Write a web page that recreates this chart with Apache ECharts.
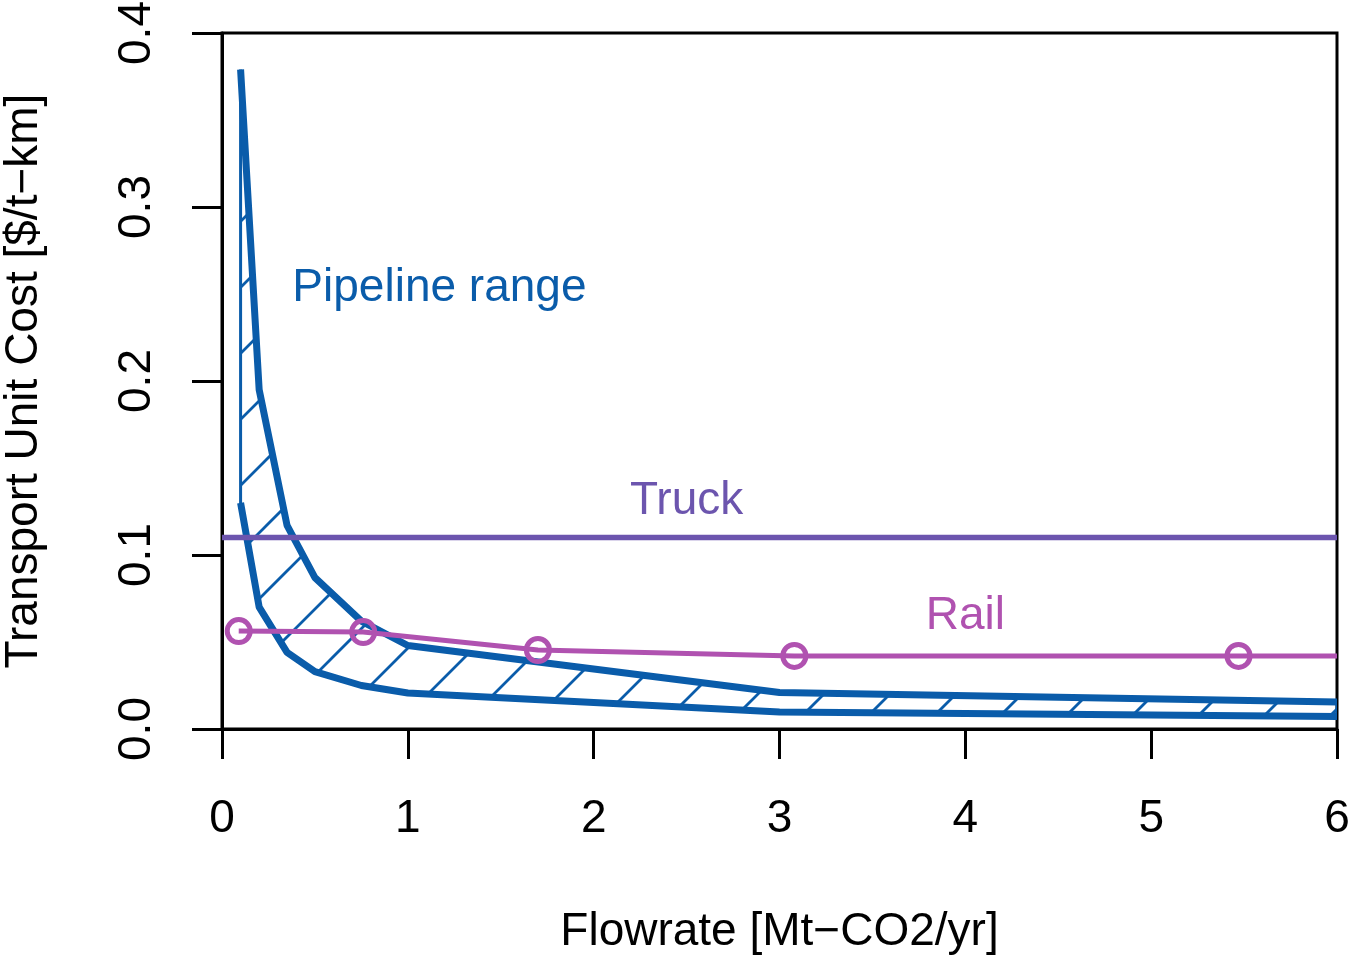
<!DOCTYPE html>
<html><head><meta charset="utf-8">
<script src="https://cdn.jsdelivr.net/npm/echarts@6/dist/echarts.min.js"></script>
<style>html,body{margin:0;padding:0;background:#fff}#c{width:1350px;height:962px}</style>
</head><body><div id="c"></div>
<script>
// ---- data ----
const pipeX    = [0.1, 0.2, 0.35, 0.5, 0.75, 1, 3, 6];
const pipeHigh = [0.379, 0.195, 0.117, 0.087, 0.062, 0.048, 0.021, 0.0155];
const pipeLow  = [0.130, 0.070, 0.044, 0.033, 0.025, 0.0207, 0.0098, 0.0072];
const railX    = [0.09, 0.76, 1.7, 3.08, 5.47];
const railY    = [0.0563, 0.0557, 0.0454, 0.042, 0.042];
const railEndX = 6;
const railEndY = 0.042;
const truckX   = [0, 6];
const truckY   = [0.11, 0.11];
const xTicks   = ['0','1','2','3','4','5','6'];
const yTicks   = ['0.0','0.1','0.2','0.3','0.4'];
const noteText = ['Pipeline range', 'Truck', 'Rail'];
const noteX    = [1.17, 2.5, 4.0];
const noteY    = [0.253, 0.131, 0.065];

const BLUE = '#0a5caa', PURPLE = '#6c55ae', MAGENTA = '#b052b0';
const FONT = '"Liberation Sans", Arial, Helvetica, sans-serif';
const noteColor = [BLUE, PURPLE, MAGENTA];

// hatch pattern (45° lines)
const S = 66;
const hatch = document.createElement('canvas');
hatch.width = S; hatch.height = S;
(function(){
  const g = hatch.getContext('2d');
  g.strokeStyle = BLUE; g.lineWidth = 2.8; g.lineCap = 'butt';
  g.beginPath();
  g.moveTo(-S, S); g.lineTo(S, -S);
  g.moveTo(0, 2*S); g.lineTo(2*S, 0);
  g.moveTo(-S, 2*S); g.lineTo(2*S, -S);
  g.stroke();
})();

const chart = echarts.init(document.getElementById('c'), null, {renderer:'canvas'});
const axisCommon = {
  axisLine: {show:true, lineStyle:{color:'#000', width:3}},
  axisTick: {show:true, length:30, lineStyle:{color:'#000', width:3}},
  splitLine: {show:false},
  nameLocation: 'middle',
  nameTextStyle: {fontSize:46, color:'#000', fontFamily:FONT}
};
chart.setOption({
  animation: false,
  backgroundColor: '#fff',
  grid: {left:222, right:13, top:33, bottom:233, show:true, borderColor:'#000', borderWidth:3,
    backgroundColor:'transparent', containLabel:false, outerBoundsMode:'none'},
  xAxis: Object.assign({}, axisCommon, {
    type:'value', min:0, max:6, interval:1,
    name:'Flowrate [Mt\u2212CO2/yr]', nameGap:180,
    axisLabel:{fontSize:46, color:'#000', fontFamily:FONT, margin:67,
      formatter: v => xTicks[Math.round(v)]}
  }),
  yAxis: Object.assign({}, axisCommon, {
    type:'value', min:0, max:0.4, interval:0.1,
    name:'Transport Unit Cost [$/t\u2212km]', nameGap:175, nameRotate:90,
    axisLabel:{fontSize:46, color:'#000', fontFamily:FONT, margin:62, rotate:90,
      formatter: v => yTicks[Math.round(v*10)]}
  }),
  series: [
    {
      type:'custom', z:2, clip:true,
      data: pipeX.map((x,i)=>[x, pipeLow[i]]),
      renderItem: function(params, api){
        if (params.dataIndex !== 0) return null;
        const pts = [];
        for (let i=0;i<pipeX.length;i++) pts.push(api.coord([pipeX[i], pipeHigh[i]]));
        for (let i=pipeX.length-1;i>=0;i--) pts.push(api.coord([pipeX[i], pipeLow[i]]));
        return {type:'polygon', shape:{points:pts},
          style:{fill:{image:hatch, repeat:'repeat'}, stroke:BLUE, lineWidth:3}};
      }
    },
    {type:'line', z:3, data: pipeX.map((x,i)=>[x, pipeHigh[i]]), symbol:'none',
      lineStyle:{color:BLUE, width:7}},
    {type:'line', z:3, data: pipeX.map((x,i)=>[x, pipeLow[i]]), symbol:'none',
      lineStyle:{color:BLUE, width:7}},
    {type:'line', z:4, data: truckX.map((x,i)=>[x, truckY[i]]), symbol:'none',
      lineStyle:{color:PURPLE, width:5.5}},
    {type:'line', z:5,
      data: railX.map((x,i)=>[x, railY[i]]).concat([{value:[railEndX, railEndY], symbol:'none'}]),
      symbol:'circle', symbolSize:23, showAllSymbol:true,
      lineStyle:{color:MAGENTA, width:5},
      itemStyle:{color:'rgba(0,0,0,0)', borderColor:MAGENTA, borderWidth:5}},
    {type:'scatter', z:6, symbolSize:1, itemStyle:{color:'rgba(0,0,0,0)', opacity:1},
      data: noteText.map((t,i)=>({value:[noteX[i], noteY[i]],
        label:{show:true, position:'inside', formatter:t, color:noteColor[i], opacity:1,
          fontSize:46, fontFamily:FONT}}))}
  ]
});
</script>
</body></html>
